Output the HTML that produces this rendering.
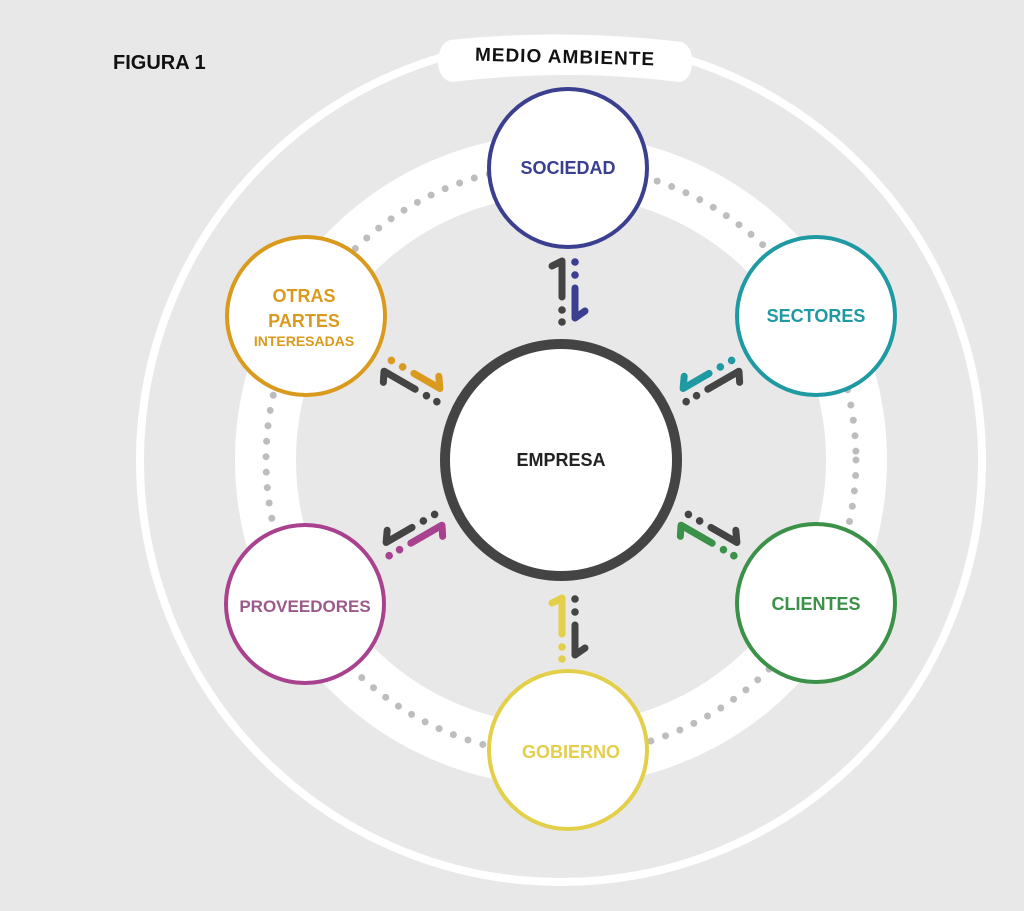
<!DOCTYPE html>
<html><head><meta charset="utf-8"><style>
html,body{margin:0;padding:0;background:#e8e8e8;}
svg{display:block}
text{font-family:"Liberation Sans",sans-serif;font-weight:bold;}
</style></head><body>
<svg width="1024" height="911" viewBox="0 0 1024 911" xmlns="http://www.w3.org/2000/svg">
<rect width="1024" height="911" fill="#e8e8e8"/>
<text x="113" y="69" font-size="20" fill="#111">FIGURA 1</text>
<circle cx="561" cy="461" r="421" fill="none" stroke="#fff" stroke-width="8"/>
<circle cx="561" cy="460" r="295.5" fill="none" stroke="#fff" stroke-width="61"/>
<circle cx="561" cy="460" r="295" fill="none" stroke="#bdbdbd" stroke-width="7" stroke-linecap="round" stroke-dasharray="0 15.5"/>
<path d="M450,40 Q565,28 682,42 Q694,48 692,66 Q690,80 680,82 Q565,68 452,82 Q440,80 438,64 Q438,44 450,40Z" fill="#fff"/>
<text x="565" y="63" font-size="19" fill="#111" text-anchor="middle" letter-spacing="1" transform="rotate(1.5 565 58)">MEDIO AMBIENTE</text>
<circle cx="561" cy="460" r="116" fill="#fff" stroke="#444" stroke-width="10"/>
<text x="561" y="466" font-size="18" fill="#222" text-anchor="middle">EMPRESA</text>
<g stroke-width="4" fill="#fff">
<circle cx="568" cy="168" r="79" stroke="#3a3f8f"/>
<circle cx="816" cy="316" r="79" stroke="#1f9aa3"/>
<circle cx="816" cy="603" r="79" stroke="#3b9148"/>
<circle cx="568" cy="750" r="79" stroke="#e3cf4a"/>
<circle cx="305" cy="604" r="79" stroke="#a8418e"/>
<circle cx="306" cy="316" r="79" stroke="#d99a1e"/>
</g>
<g font-size="18" text-anchor="middle">
<text x="568" y="174" fill="#3a3f8f">SOCIEDAD</text>
<text x="816" y="322" fill="#1f9aa3">SECTORES</text>
<text x="816" y="610" fill="#3b9148">CLIENTES</text>
<text x="571" y="758" fill="#e3cf4a">GOBIERNO</text>
<text x="305" y="612" fill="#9a5a8a" font-size="17">PROVEEDORES</text>
<text x="304" y="302" fill="#d99a1e">OTRAS</text>
<text x="304" y="327" fill="#d99a1e">PARTES</text>
<text x="304" y="346" fill="#d99a1e" font-size="14">INTERESADAS</text>
</g>
<defs>
<g id="pa">
<path d="M-16,-25 L-6,-30 L-6,6" fill="none" stroke="var(--a)" stroke-width="7" stroke-linecap="round" stroke-linejoin="round"/>
<circle cx="-6" cy="19" r="3.8" fill="var(--a)"/><circle cx="-6" cy="31" r="3.8" fill="var(--a)"/>
<circle cx="7" cy="-29" r="3.8" fill="var(--b)"/><circle cx="7" cy="-16" r="3.8" fill="var(--b)"/>
<path d="M7,-3 L7,27 L17,20" fill="none" stroke="var(--b)" stroke-width="7" stroke-linecap="round" stroke-linejoin="round"/>
</g>
</defs>
<use href="#pa" transform="translate(568,291)" style="--a:#444;--b:#3a3f8f"/>
<use href="#pa" transform="translate(413,381) rotate(-60)" style="--a:#444;--b:#d99a1e"/>
<use href="#pa" transform="translate(710,381) rotate(60) scale(-1,1)" style="--a:#444;--b:#1f9aa3"/>
<use href="#pa" transform="translate(568,628)" style="--a:#e3cf4a;--b:#444"/>
<use href="#pa" transform="translate(413,535) rotate(60) scale(-1,1)" style="--a:#a8418e;--b:#444"/>
<use href="#pa" transform="translate(710,535) rotate(-60)" style="--a:#3b9148;--b:#444"/>
</svg>
</body></html>
